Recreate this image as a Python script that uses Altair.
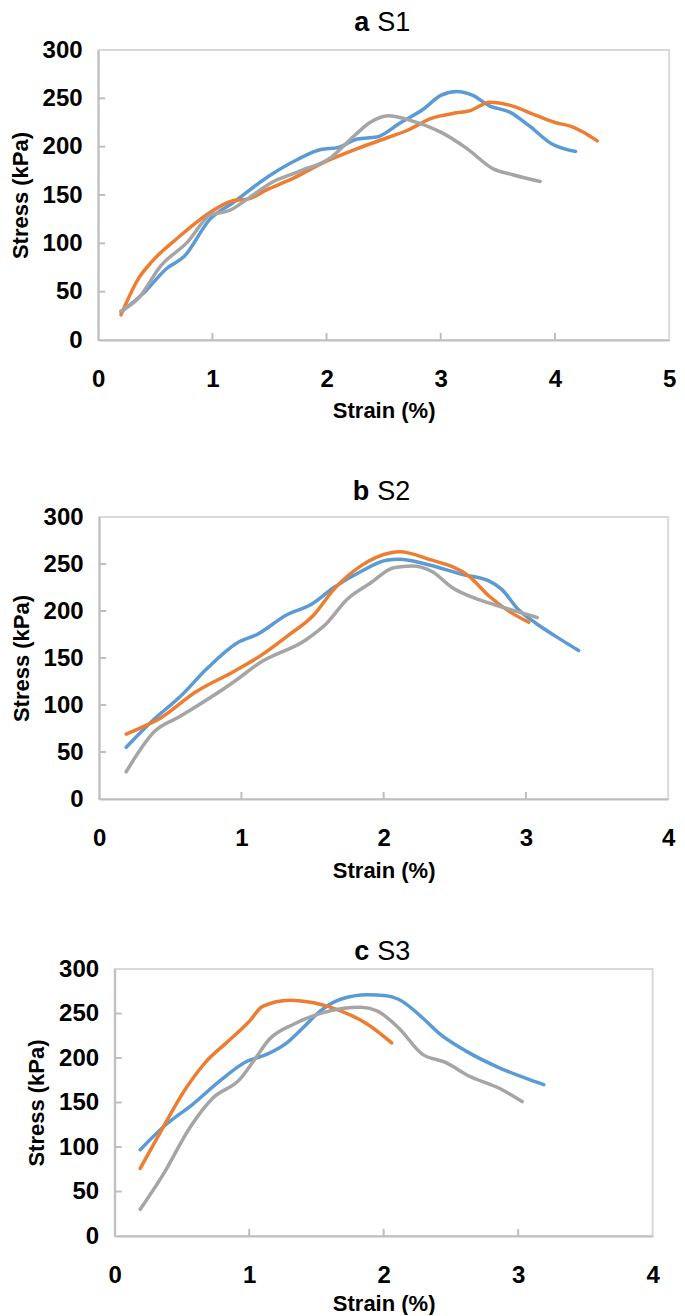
import altair as alt
import pandas as pd

SERIES = ["Specimen 1", "Specimen 2", "Specimen 3"]
COLORS = ["#5B9BD5", "#ED7D31", "#A5A5A5"]

# ---------- Panel a (S1) ----------
A1_X = [0.2, 0.41, 0.6, 0.75, 0.98, 1.18, 1.5, 1.75, 1.95, 2.1, 2.27, 2.44, 2.65, 2.85, 3.0, 3.14, 3.28, 3.43, 3.6, 3.77, 3.97, 4.18]
A1_Y = [29, 50, 74, 86, 125, 142, 170, 187, 197, 199, 208, 210, 225, 239, 253, 257, 253, 242, 236, 222, 203, 195]
A2_X = [0.2, 0.35, 0.47, 0.69, 0.98, 1.18, 1.32, 1.47, 1.72, 1.98, 2.27, 2.55, 2.71, 2.91, 3.14, 3.25, 3.43, 3.63, 3.8, 4.0, 4.14, 4.25, 4.37]
A2_Y = [26, 63, 81, 105, 132, 144, 146, 155, 168, 184, 198, 210, 217, 229, 235, 237, 246, 242, 234, 225, 221, 215, 206]
A3_X = [0.2, 0.35, 0.55, 0.78, 0.98, 1.15, 1.32, 1.52, 1.75, 2.04, 2.24, 2.38, 2.54, 2.74, 3.0, 3.23, 3.46, 3.63, 3.87]
A3_Y = [30, 43, 77, 101, 129, 134, 147, 163, 174, 189, 211, 225, 232, 227, 215, 198, 177, 171, 164]

# ---------- Panel b (S2) ----------
B1_X = [0.19, 0.38, 0.57, 0.76, 0.97, 1.11, 1.32, 1.49, 1.65, 1.84, 2.02, 2.11, 2.32, 2.55, 2.74, 2.83, 2.95, 3.07, 3.21, 3.37]
B1_Y = [55, 84, 109, 139, 166, 175, 196, 207, 225, 242, 254, 255, 249, 239, 232, 223, 201, 187, 173, 158]
B2_X = [0.19, 0.31, 0.43, 0.67, 0.95, 1.13, 1.32, 1.51, 1.65, 1.84, 2.05, 2.11, 2.32, 2.6, 2.74, 2.9, 3.02]
B2_Y = [69, 77, 86, 113, 136, 152, 173, 196, 223, 248, 262, 263, 255, 237, 216, 198, 188]
B3_X = [0.19, 0.39, 0.57, 0.95, 1.13, 1.46, 1.6, 1.74, 1.91, 2.07, 2.2, 2.34, 2.48, 2.67, 2.86, 3.08]
B3_Y = [29, 72, 88, 125, 145, 170, 187, 212, 230, 246, 248, 242, 225, 212, 203, 193]

# ---------- Panel c (S3) ----------
C1_X = [0.19, 0.38, 0.58, 0.78, 0.98, 1.13, 1.28, 1.4, 1.53, 1.68, 1.88, 2.02, 2.11, 2.29, 2.41, 2.61, 2.86, 3.06, 3.19]
C1_Y = [97, 125, 148, 174, 196, 204, 217, 234, 253, 266, 271, 270, 266, 245, 228, 208, 189, 177, 170]
C2_X = [0.19, 0.33, 0.53, 0.68, 0.83, 1.0, 1.1, 1.3, 1.48, 1.68, 1.88, 2.06]
C2_Y = [76, 114, 166, 196, 217, 241, 258, 265, 262, 253, 238, 217]
C3_X = [0.19, 0.36, 0.56, 0.73, 0.93, 1.03, 1.15, 1.33, 1.55, 1.83, 1.95, 2.11, 2.29, 2.46, 2.63, 2.86, 3.03]
C3_Y = [30, 69, 122, 155, 176, 196, 221, 238, 251, 257, 253, 234, 204, 195, 180, 166, 151]

Y_TICKS = [0, 50, 100, 150, 200, 250, 300]
Y_INNER_TICKS = [50, 100, 150, 200, 250]

FONT = "Liberation Sans, Arial, sans-serif"
AXIS_GRAY = "#BFBFBF"


def panel(series_xy, x_max, width, height, letter, name, title_y, x_title_pad, plot_left):
    rows = []
    for s, (xs, ys) in zip(SERIES, series_xy):
        for i, (xv, yv) in enumerate(zip(xs, ys)):
            rows.append({"series": s, "order": i, "strain": xv, "stress": yv})
    df = pd.DataFrame(rows)

    x_ticks = list(range(0, x_max + 1))
    x_scale = alt.Scale(domain=[0, x_max], nice=False, zero=True)
    y_scale = alt.Scale(domain=[0, 300], nice=False)

    x_enc = alt.X("strain:Q", scale=x_scale,
                  axis=alt.Axis(values=x_ticks, title="Strain (%)", format="d",
                                labelPadding=27, titlePadding=x_title_pad))
    y_enc = alt.Y("stress:Q", scale=y_scale,
                  axis=alt.Axis(values=Y_TICKS, title="Stress (kPa)",
                                labelPadding=16, titlePadding=10))

    lines = alt.Chart(df).mark_line(
        interpolate="monotone", strokeWidth=3.5, strokeCap="round", strokeJoin="round"
    ).encode(
        x=x_enc,
        y=y_enc,
        color=alt.Color("series:N", scale=alt.Scale(domain=SERIES, range=COLORS), legend=None),
        order="order:Q",
    )

    xt = pd.DataFrame({"strain": x_ticks[1:-1]})
    x_tick_marks = alt.Chart(xt).mark_rule(color=AXIS_GRAY, strokeWidth=2).encode(
        x=x_enc, y=alt.value(height), y2=alt.value(height - 7)
    )
    yt = pd.DataFrame({"stress": Y_INNER_TICKS})
    y_tick_marks = alt.Chart(yt).mark_rule(color=AXIS_GRAY, strokeWidth=2).encode(
        y=y_enc, x=alt.value(0), x2=alt.value(7)
    )

    tdf = pd.DataFrame({"letter": [letter], "name": [name]})
    t_letter = alt.Chart(tdf).mark_text(
        align="right", baseline="alphabetic", fontSize=27, fontWeight="bold",
        font=FONT, color="black"
    ).encode(text="letter:N", x=alt.value(370 - plot_left), y=alt.value(title_y))
    t_name = alt.Chart(tdf).mark_text(
        align="left", baseline="alphabetic", fontSize=27, fontWeight="normal",
        font=FONT, color="black"
    ).encode(text="name:N", x=alt.value(378 - plot_left), y=alt.value(title_y))

    return alt.layer(x_tick_marks, y_tick_marks, lines, t_letter, t_name).properties(
        width=width, height=height
    )


pa = panel([(A1_X, A1_Y), (A2_X, A2_Y), (A3_X, A3_Y)], 5, 571, 290, "a", "S1", -19, 9, 99)
pb = panel([(B1_X, B1_Y), (B2_X, B2_Y), (B3_X, B3_Y)], 4, 569, 282, "b", "S2", -17, 10, 100)
pc = panel([(C1_X, C1_Y), (C2_X, C2_Y), (C3_X, C3_Y)], 4, 538, 267, "c", "S3", -9, 6, 115.5)

chart = alt.vconcat(pa, pb, pc, spacing=55, center=True).properties(
    padding={"left": 0, "top": 0, "right": 0, "bottom": 0}
).configure_view(
    stroke="#D9D9D9", strokeWidth=2
).configure_axis(
    grid=False, ticks=False, domainColor=AXIS_GRAY, domainWidth=2,
    labelFont=FONT, labelFontSize=24, labelFontWeight="bold", labelColor="black",
    titleFont=FONT, titleFontSize=22, titleFontWeight="bold", titleColor="black",
    labelOverlap=False, labelFlush=False
).configure_concat(spacing=55)

chart.save("out.html", embed_options={"renderer": "svg", "actions": False})
